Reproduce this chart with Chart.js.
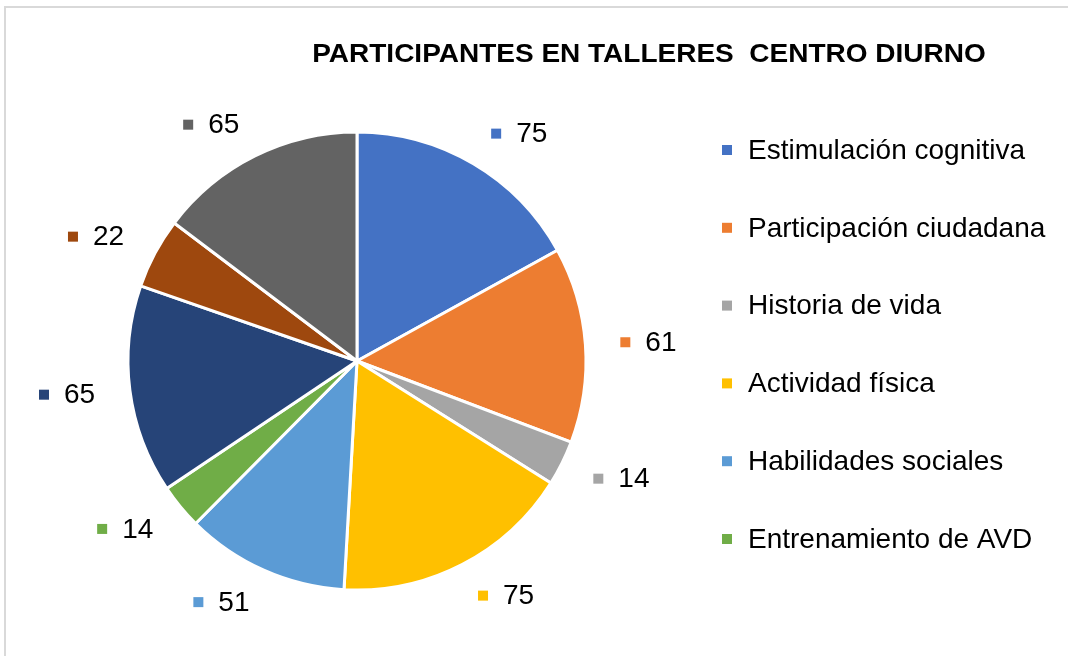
<!DOCTYPE html>
<html lang="es">
<head>
<meta charset="utf-8">
<title>Participantes en talleres Centro Diurno</title>
<script src="https://cdn.jsdelivr.net/npm/chart.js@4.4.1/dist/chart.umd.min.js"></script>
<style>
    html, body { margin: 0; padding: 0; background: #ffffff; }
    #wrap { position: relative; width: 1068px; height: 656px; overflow: hidden; }
    #marco { position: absolute; left: 4px; top: 6px; right: -10px; bottom: -10px; border-left: 2px solid #d9d9d9; border-top: 2px solid #d9d9d9; pointer-events: none; }
    canvas { position: absolute; left: 0; top: 0; }
</style>
</head>
<body>
<div id="wrap">
    <canvas id="grafico" width="1068" height="656"></canvas>
    <div id="marco"></div>
</div>
<script>
// --- DATOS ---
const TITULO = 'PARTICIPANTES EN TALLERES  CENTRO DIURNO';
const TALLERES = ['Estimulación cognitiva', 'Participación ciudadana', 'Historia de vida', 'Actividad física', 'Habilidades sociales', 'Entrenamiento de AVD'];
const PARTICIPANTES = [75, 61, 14, 75, 51, 14, 65, 22, 65];
const COLORES = ['#4472c4', '#ed7d31', '#a5a5a5', '#ffc000', '#5b9bd5', '#70ad47', '#264478', '#9e480e', '#636363'];

const FUENTE = '"Liberation Sans", Arial, sans-serif';

// --- PLUGIN: titulo, leyenda y etiquetas con cuadrito ---
const dibujoExtra = {
    id: 'dibujoExtra',
    afterDraw(chart) {
        const ctx = chart.ctx;
        ctx.save();

        // titulo (un poco estirado a lo ancho, como en el original)
        ctx.save();
        ctx.fillStyle = '#000000';
        ctx.font = 'bold 25px ' + FUENTE;
        ctx.textAlign = 'center';
        ctx.textBaseline = 'middle';
        ctx.translate(649, 55);
        ctx.scale(1.12, 1);
        ctx.fillText(TITULO, 0, 0);
        ctx.restore();

        // leyenda (solo las categorias con nombre)
        ctx.font = '28px ' + FUENTE;
        ctx.textAlign = 'left';
        ctx.textBaseline = 'middle';
        TALLERES.forEach((nombre, i) => {
            const y = 150 + i * 77.8;
            ctx.fillStyle = COLORES[i];
            ctx.fillRect(722, y - 5, 10, 10);
            ctx.fillStyle = '#000000';
            ctx.fillText(nombre, 748, y + 1);
        });

        // etiquetas de valor fuera de cada porcion
        const arcos = chart.getDatasetMeta(0).data;
        arcos.forEach((arco, i) => {
            const { x, y, startAngle, endAngle, outerRadius } = arco.getProps(['x', 'y', 'startAngle', 'endAngle', 'outerRadius'], true);
            const medio = (startAngle + endAngle) / 2;
            const R = outerRadius + 35;
            const texto = String(PARTICIPANTES[i]);
            const anchoTexto = ctx.measureText(texto).width;
            const anchoBloque = 25 + anchoTexto;
            const lado = Math.cos(medio) >= 0 ? 1 : -1;
            const cx = x + R * Math.cos(medio) + lado * anchoBloque / 2;
            const cy = y + R * Math.sin(medio);
            const izq = cx - anchoBloque / 2;
            ctx.fillStyle = COLORES[i];
            ctx.fillRect(izq, cy - 5, 10, 10);
            ctx.fillStyle = '#000000';
            ctx.fillText(texto, izq + 25, cy + 1);
        });

        ctx.restore();
    }
};

// --- GRAFICO ---
const grafico = new Chart(document.getElementById('grafico').getContext('2d'), {
    type: 'pie',
    data: {
        labels: PARTICIPANTES.map((v, i) => TALLERES[i] || ''),
        datasets: [{
            data: PARTICIPANTES,
            backgroundColor: COLORES,
            borderColor: '#ffffff',
            borderWidth: 3
        }]
    },
    options: {
        responsive: false,
        animation: false,
        layout: { padding: { left: 126.5, top: 130.5, right: 480.5, bottom: 64.5 } },
        plugins: {
            legend: { display: false },
            title: { display: false },
            tooltip: { enabled: false }
        }
    },
    plugins: [dibujoExtra]
});
</script>
</body>
</html>
